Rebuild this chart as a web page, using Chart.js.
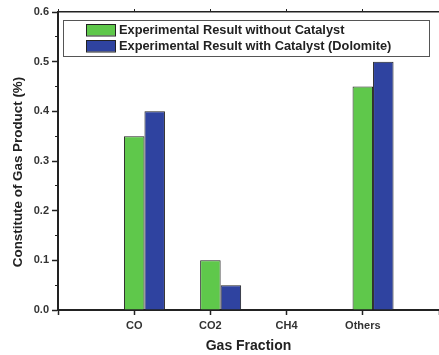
<!DOCTYPE html>
<html lang="en">
<head>
  <meta charset="UTF-8">
  <title>Gas Fraction</title>
  <script src="https://cdn.jsdelivr.net/npm/chart.js"></script>
  <style>
    body { margin: 0; background: #fff; }
    .wrap { width: 439px; height: 355px; }
  </style>
</head>
<body>
  <div class="wrap"><canvas id="chart" width="439" height="355"></canvas></div>
  <script>
    // category slots: empty slot at each end so the axis runs past CO and Others
    const categories = ['', 'CO', 'CO2', 'CH4', 'Others', ''];
    const withoutCatalyst = [null, 0.35, 0.10, 0.00, 0.45, null];
    const withCatalyst = [null, 0.40, 0.05, 0.00, 0.50, null];
    const seriesNames = ['Experimental Result without Catalyst', 'Experimental Result with Catalyst (Dolomite)'];
    const yTicks = [0, 0.1, 0.2, 0.3, 0.4, 0.5, 0.6];

    const green = '#5fc84b';
    const blue = '#2f43a0';
    const ink = '#222';

    // legend box inside the plot + y title
    const extras = {
      id: 'extras',
      afterDraw(chart) {
        const ctx = chart.ctx;
        ctx.save();
        ctx.strokeStyle = '#555';
        ctx.lineWidth = 1;
        ctx.strokeRect(63.5, 20.5, 366, 36);
        const items = [chart.data.datasets[1], chart.data.datasets[2]];
        ctx.font = 'bold 12.8px "Liberation Sans", Arial, sans-serif';
        ctx.textBaseline = 'middle';
        items.forEach((ds, i) => {
          const y = 24 + i * 16;
          ctx.fillStyle = ds.backgroundColor;
          ctx.fillRect(86, y, 29, 11.5);
          ctx.strokeStyle = ink;
          ctx.strokeRect(86.5, y + 0.5, 29, 11.5);
          ctx.fillStyle = ink;
          ctx.fillText(ds.label, 119, y + 6.5);
        });
        // y axis title
        ctx.translate(17, 172);
        ctx.rotate(-Math.PI / 2);
        ctx.textAlign = 'center';
        ctx.font = 'bold 13.4px "Liberation Sans", Arial, sans-serif';
        ctx.fillStyle = ink;
        ctx.fillText('Constitute of Gas Product (%)', 0, 1);
        ctx.restore();
      }
    };

    const tickFont = { family: '"Liberation Sans", Arial, sans-serif', size: 11, weight: 'bold' };
    const noSidePad = s => { s.paddingLeft = 0; s.paddingRight = 0; };

    new Chart(document.getElementById('chart'), {
      type: 'bar',
      data: {
        labels: categories,
        datasets: [
          // empty slot so the green bar sits on the tick and blue to its right
          { label: '', data: categories.map(() => null), backgroundColor: 'transparent' },
          { label: seriesNames[0], data: withoutCatalyst, backgroundColor: green, borderColor: ink, borderWidth: 1 },
          { label: seriesNames[1], data: withCatalyst, backgroundColor: blue, borderColor: ink, borderWidth: 1 }
        ]
      },
      options: {
        responsive: false,
        animation: false,
        events: [],
        barPercentage: 1,
        categoryPercentage: 0.807,
        layout: { padding: { top: 9, right: 0, left: 0, bottom: 0 } },
        plugins: { legend: { display: false }, tooltip: { enabled: false } },
        scales: {
          x: {
            type: 'category',
            offset: false,
            grid: { offset: false, drawOnChartArea: false, tickLength: 5, tickColor: ink, tickWidth: 1.5 },
            border: { color: ink, width: 2 },
            ticks: { font: tickFont, color: '#333', padding: 4, maxRotation: 0, autoSkip: false },
            title: {
              display: true, text: 'Gas Fraction', color: ink,
              font: { family: '"Liberation Sans", Arial, sans-serif', size: 14, weight: 'bold' },
              padding: { top: 0, bottom: 0 }
            },
            afterFit(s) { s.height = 45; noSidePad(s); }
          },
          xTop: {
            type: 'category',
            position: 'top',
            offset: false,
            labels: categories,
            grid: { offset: false, drawOnChartArea: false, tickLength: 3, tickColor: ink },
            border: { color: ink, width: 1.5 },
            ticks: { display: false },
            afterFit(s) { s.height = 3; noSidePad(s); }
          },
          y: {
            min: 0, max: 0.6,
            weight: 1,
            afterBuildTicks(s) { s.ticks = yTicks.map(v => ({ value: v })); },
            grid: { drawOnChartArea: false, tickLength: 6, tickColor: ink, tickWidth: 1.5 },
            border: { color: ink, width: 2 },
            ticks: { font: tickFont, color: '#333', padding: 3, callback: v => v.toFixed(1) },
            afterFit(s) { s.width = 58; }
          },
          yMinor: {
            min: 0, max: 0.6,
            position: 'left',
            weight: 0,
            ticks: { display: false, stepSize: 0.05 },
            grid: { drawOnChartArea: false, tickLength: 3, tickColor: ink },
            border: { display: false },
            afterFit(s) { s.width = 0; }
          }
        }
      },
      plugins: [extras]
    });
  </script>
</body>
</html>
